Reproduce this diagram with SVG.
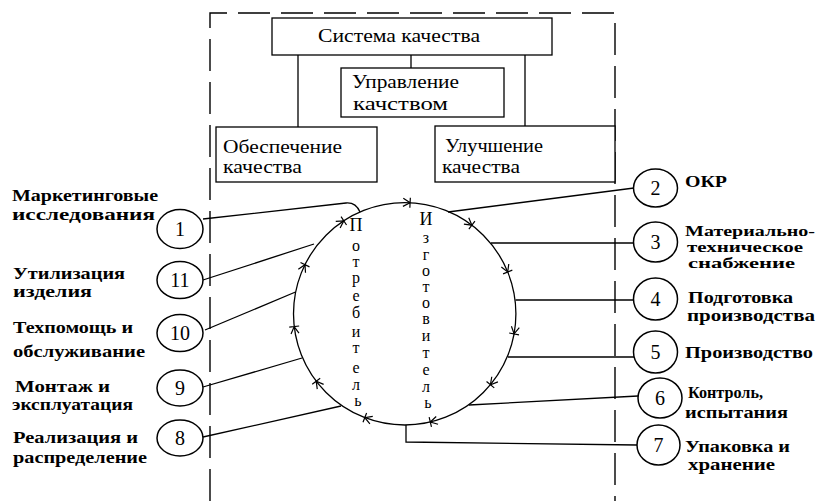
<svg xmlns="http://www.w3.org/2000/svg" xmlns:xlink="http://www.w3.org/1999/xlink" width="817" height="501" viewBox="0 0 817 501">
  <style>
    .box { fill: #fff; stroke: #000; stroke-width: 1.3; }
    .ln { fill: none; stroke: #000; stroke-width: 1.3; }
    .dash { fill: none; stroke: #000; stroke-width: 1.4; stroke-dasharray: 32 11; }
    .node { fill: #fff; stroke: #000; stroke-width: 1.5; }
    .btxt { font-family: "Liberation Serif", "Times New Roman", serif; font-size: 18px; fill: #000; }
    .lbl { font-family: "Liberation Serif", "Times New Roman", serif; font-size: 16px; font-weight: bold; fill: #000; }
    .sm { font-size: 14px; }
    .num { font-family: "Liberation Serif", "Times New Roman", serif; font-size: 20px; fill: #000; text-anchor: middle; }
    .vert { font-family: "Liberation Serif", "Times New Roman", serif; font-size: 16px; fill: #000; text-anchor: middle; }
    .cap { font-size: 18px; }
    .arr { fill: none; stroke: #000; stroke-width: 1.2; }
  </style>
  <defs>
    <!-- small arrowhead with a cross tick, pointing along +x -->
    <path id="tick" class="arr" d="M-7,-4 L0,0 L-7,4 M0,-5 L0,5"/>
  </defs>

  <rect width="817" height="501" fill="#fff"/>

  <!-- enterprise boundary (dashed) -->
  <g id="boundary">
    <path class="dash" d="M210,501 V13 H615 V501"/>
  </g>

  <!-- quality system hierarchy -->
  <g id="quality-system">
    <rect class="box" x="272" y="18" width="280" height="37"/>
    <text class="btxt" x="318" y="42" textLength="162" lengthAdjust="spacingAndGlyphs">Система качества</text>
  </g>
  <g id="quality-management">
    <rect class="box" x="341" y="68" width="163" height="49"/>
    <text class="btxt" x="352" y="88" textLength="107" lengthAdjust="spacingAndGlyphs">Управление</text>
    <text class="btxt" x="353" y="110" textLength="95" lengthAdjust="spacingAndGlyphs">качством</text>
  </g>
  <g id="quality-assurance">
    <rect class="box" x="216" y="127" width="161" height="55"/>
    <text class="btxt" x="223" y="153" textLength="119" lengthAdjust="spacingAndGlyphs">Обеспечение</text>
    <text class="btxt" x="223" y="173" textLength="79" lengthAdjust="spacingAndGlyphs">качества</text>
  </g>
  <g id="quality-improvement">
    <rect class="box" x="435" y="126" width="180" height="56"/>
    <text class="btxt" x="445" y="152" textLength="98" lengthAdjust="spacingAndGlyphs">Улучшение</text>
    <text class="btxt" x="442" y="173" textLength="78" lengthAdjust="spacingAndGlyphs">качества</text>
  </g>

  <!-- product life cycle loop -->
  <g id="cycle">
    <circle class="ln" cx="404.7" cy="313.8" r="111.2"/>
    <text class="vert" x="358">
      <tspan class="cap" x="358" y="231">П</tspan>
      <tspan x="358" y="251">о</tspan>
      <tspan x="358" y="267">т</tspan>
      <tspan x="358" y="283">р</tspan>
      <tspan x="358" y="301">е</tspan>
      <tspan x="358" y="318">б</tspan>
      <tspan x="358" y="337">и</tspan>
      <tspan x="358" y="353">т</tspan>
      <tspan x="358" y="373">е</tspan>
      <tspan x="358" y="390">л</tspan>
      <tspan x="358" y="406">ь</tspan>
    </text>
    <text class="vert" x="428">
      <tspan class="cap" x="428" y="225">И</tspan>
      <tspan x="428" y="243">з</tspan>
      <tspan x="428" y="260">г</tspan>
      <tspan x="428" y="276">о</tspan>
      <tspan x="428" y="292">т</tspan>
      <tspan x="428" y="308">о</tspan>
      <tspan x="428" y="324">в</tspan>
      <tspan x="428" y="341">и</tspan>
      <tspan x="428" y="358">т</tspan>
      <tspan x="428" y="375">е</tspan>
      <tspan x="428" y="392">л</tspan>
      <tspan x="428" y="408">ь</tspan>
    </text>
    <!-- clockwise direction marks -->
    <use xlink:href="#tick" href="#tick" transform="translate(410.1,202.7) rotate(2.8)"/>
    <use xlink:href="#tick" href="#tick" transform="translate(471.9,225.2) rotate(37.2)"/>
    <use xlink:href="#tick" href="#tick" transform="translate(507.7,272) rotate(67.9)"/>
    <use xlink:href="#tick" href="#tick" transform="translate(514.1,333.9) rotate(100.4)"/>
    <use xlink:href="#tick" href="#tick" transform="translate(490.4,384.7) rotate(129.6)"/>
    <use xlink:href="#tick" href="#tick" transform="translate(430.3,422) rotate(166.7)"/>
    <use xlink:href="#tick" href="#tick" transform="translate(364.8,417.6) rotate(201)"/>
    <use xlink:href="#tick" href="#tick" transform="translate(316.2,381.2) rotate(232.7)"/>
    <use xlink:href="#tick" href="#tick" transform="translate(294.2,326.6) rotate(263.4)"/>
    <use xlink:href="#tick" href="#tick" transform="translate(305,264.7) rotate(296.2)"/>
    <use xlink:href="#tick" href="#tick" transform="translate(343.8,220.8) rotate(326.8)"/>
  </g>

  <!-- connectors -->
  <g id="connectors">
    <path class="ln" d="M298,55 V127 M525,55 V126"/>
    <path class="ln" d="M411,55 V68" stroke-width="2.2"/>
    <path class="ln" d="M203,219 L346,203 C352,202.5 357,205 360,212"/>
    <path class="ln" d="M203,280 L314,244"/>
    <path class="ln" d="M205,330 L295.5,292"/>
    <path class="ln" d="M203,387 L302,358"/>
    <path class="ln" d="M203,437 L341,406"/>
    <path class="ln" d="M634,188 L448,212"/>
    <path class="ln" d="M634,243 H491"/>
    <path class="ln" d="M634,300 H515.5"/>
    <path class="ln" d="M634,357 H508"/>
    <path class="ln" d="M638,396 L469,405"/>
    <path class="ln" d="M406,425 V442 L637,445"/>
  </g>

  <!-- numbered stages, left side -->
  <g id="stage-1">
    <ellipse class="node" cx="180" cy="229" rx="23" ry="19.5"/>
    <text class="num" x="180" y="236">1</text>
    <text class="lbl" x="12" y="201" textLength="146" lengthAdjust="spacingAndGlyphs">Маркетинговые</text>
    <text class="lbl" x="12" y="220" textLength="143" lengthAdjust="spacingAndGlyphs">исследования</text>
  </g>
  <g id="stage-11">
    <ellipse class="node" cx="180" cy="280" rx="23" ry="18.5"/>
    <text class="num" x="180" y="287">11</text>
    <text class="lbl" x="13" y="279" textLength="112" lengthAdjust="spacingAndGlyphs">Утилизация</text>
    <text class="lbl" x="13" y="297" textLength="79" lengthAdjust="spacingAndGlyphs">изделия</text>
  </g>
  <g id="stage-10">
    <ellipse class="node" cx="180" cy="333" rx="23" ry="18.5"/>
    <text class="num" x="180" y="340">10</text>
    <text class="lbl" x="13" y="333" textLength="120" lengthAdjust="spacingAndGlyphs">Техпомощь и</text>
    <text class="lbl" x="13" y="357" textLength="132" lengthAdjust="spacingAndGlyphs">обслуживание</text>
  </g>
  <g id="stage-9">
    <ellipse class="node" cx="180" cy="388" rx="23" ry="18"/>
    <text class="num" x="180" y="395">9</text>
    <text class="lbl" x="15" y="392" textLength="95" lengthAdjust="spacingAndGlyphs">Монтаж  и</text>
    <text class="lbl" x="12" y="410" textLength="121" lengthAdjust="spacingAndGlyphs">эксплуатация</text>
  </g>
  <g id="stage-8">
    <ellipse class="node" cx="180" cy="438" rx="23" ry="18"/>
    <text class="num" x="180" y="445">8</text>
    <text class="lbl" x="13" y="443" textLength="125" lengthAdjust="spacingAndGlyphs">Реализация  и</text>
    <text class="lbl" x="13" y="463" textLength="134" lengthAdjust="spacingAndGlyphs">распределение</text>
  </g>

  <!-- numbered stages, right side -->
  <g id="stage-2">
    <ellipse class="node" cx="655.5" cy="188" rx="22" ry="19"/>
    <text class="num" x="655.5" y="195">2</text>
    <text class="lbl" x="685" y="187" textLength="42" lengthAdjust="spacingAndGlyphs">ОКР</text>
  </g>
  <g id="stage-3">
    <ellipse class="node" cx="655.5" cy="242" rx="22" ry="20"/>
    <text class="num" x="655.5" y="249">3</text>
    <text class="lbl sm" x="685" y="236" textLength="130" lengthAdjust="spacingAndGlyphs">Материально-</text>
    <text class="lbl sm" x="687" y="252" textLength="116" lengthAdjust="spacingAndGlyphs">техническое</text>
    <text class="lbl sm" x="688" y="268" textLength="107" lengthAdjust="spacingAndGlyphs">снабжение</text>
  </g>
  <g id="stage-4">
    <ellipse class="node" cx="655.5" cy="299" rx="22" ry="21"/>
    <text class="num" x="655.5" y="306">4</text>
    <text class="lbl" x="688" y="303" textLength="105" lengthAdjust="spacingAndGlyphs">Подготовка</text>
    <text class="lbl" x="687" y="321" textLength="128" lengthAdjust="spacingAndGlyphs">производства</text>
  </g>
  <g id="stage-5">
    <ellipse class="node" cx="655.5" cy="352" rx="22" ry="21"/>
    <text class="num" x="655.5" y="359">5</text>
    <text class="lbl" x="685" y="358" textLength="128" lengthAdjust="spacingAndGlyphs">Производство</text>
  </g>
  <g id="stage-6">
    <ellipse class="node" cx="660" cy="398" rx="22" ry="20"/>
    <text class="num" x="660" y="405">6</text>
    <text class="lbl" x="688" y="398" textLength="75" lengthAdjust="spacingAndGlyphs">Контроль,</text>
    <text class="lbl" x="685" y="418" textLength="103" lengthAdjust="spacingAndGlyphs">испытания</text>
  </g>
  <g id="stage-7">
    <ellipse class="node" cx="658.5" cy="445" rx="21.5" ry="20"/>
    <text class="num" x="658.5" y="452">7</text>
    <text class="lbl" x="685" y="452" textLength="105" lengthAdjust="spacingAndGlyphs">Упаковка и</text>
    <text class="lbl" x="688" y="470" textLength="87" lengthAdjust="spacingAndGlyphs">хранение</text>
  </g>
</svg>
